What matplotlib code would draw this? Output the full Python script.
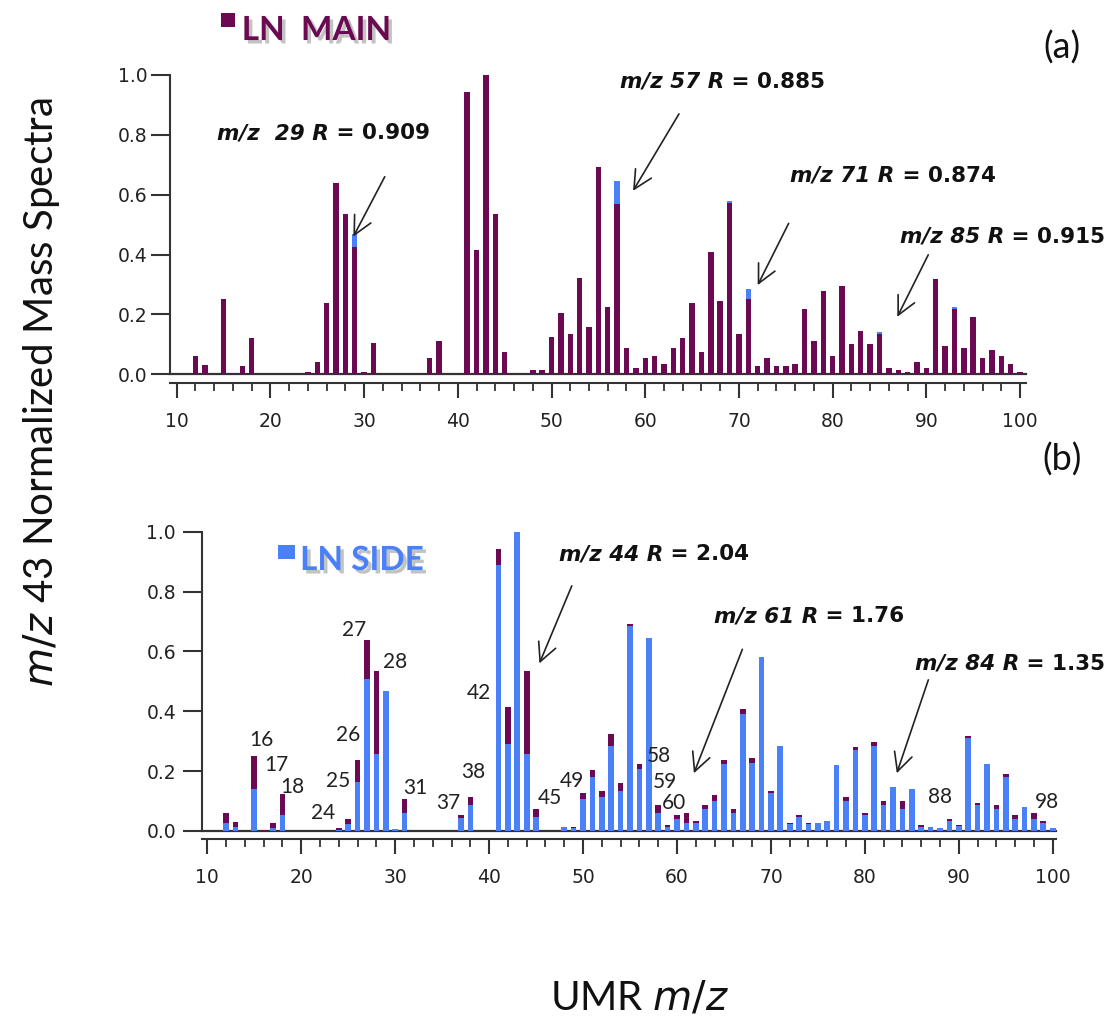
import numpy as np
import matplotlib
matplotlib.use('Agg')
from matplotlib import pyplot as plt
from matplotlib.patches import Rectangle
import matplotlib.patheffects as pe

# --- data: m/z 43 normalised unit mass resolution spectra ---
mz = np.arange(12, 101)
ln_main = [0.061, 0.030, 0, 0.252, 0.003, 0.028, 0.122, 0, 0, 0,            # 12-21
           0, 0, 0.009, 0.041, 0.238, 0.638, 0.534, 0.424, 0.008, 0.106,    # 22-31
           0, 0, 0, 0, 0, 0.053, 0.112, 0, 0, 0.942,                        # 32-41
           0.415, 1.0, 0.534, 0.073, 0, 0, 0.013, 0.014, 0.126, 0.204,      # 42-51
           0.133, 0.323, 0.159, 0.692, 0.225, 0.568, 0.087, 0.021, 0.053, 0.061,  # 52-61
           0.035, 0.087, 0.120, 0.237, 0.073, 0.409, 0.245, 0.573, 0.133, 0.253,  # 62-71
           0.028, 0.053, 0.028, 0.028, 0.035, 0.219, 0.112, 0.279, 0.061, 0.296,  # 72-81
           0.100, 0.146, 0.100, 0.135, 0.021, 0.014, 0.007, 0.041, 0.021, 0.317,  # 82-91
           0.095, 0.219, 0.087, 0.192, 0.053, 0.080, 0.061, 0.035, 0.007]         # 92-100
ln_side = [0.028, 0.015, 0, 0.139, 0, 0.009, 0.053, 0, 0, 0,
           0, 0, 0.003, 0.022, 0.165, 0.508, 0.257, 0.469, 0.008, 0.061,
           0, 0, 0, 0, 0, 0.042, 0.087, 0, 0, 0.889,
           0.290, 1.0, 0.257, 0.048, 0, 0, 0.014, 0.009, 0.106, 0.179,
           0.112, 0.284, 0.134, 0.686, 0.206, 0.645, 0.061, 0.014, 0.041, 0.028,
           0.028, 0.072, 0.100, 0.224, 0.061, 0.390, 0.226, 0.580, 0.126, 0.284,
           0.022, 0.048, 0.022, 0.028, 0.035, 0.219, 0.100, 0.270, 0.053, 0.284,
           0.087, 0.146, 0.072, 0.140, 0.014, 0.014, 0.009, 0.035, 0.017, 0.312,
           0.087, 0.225, 0.072, 0.179, 0.041, 0.080, 0.041, 0.028, 0.009]

# R annotations: (italic part, value part, text x, text y, arrow tail, arrow head)
ann_a = [("m/z  29 R", " = 0.909", 14.3, 0.806, (32.2, 0.66), (28.85, 0.46)),
         ("m/z 57 R", " = 0.885", 57.3, 0.977, (63.6, 0.87), (58.7, 0.613)),
         ("m/z 71 R", " = 0.874", 75.5, 0.663, (75.3, 0.504), (72.0, 0.298)),
         ("m/z 85 R", " = 0.915", 87.2, 0.459, (90.2, 0.399), (86.9, 0.192))]
ann_b = [("m/z 44 R", " = 2.04", 47.4, 0.925, (48.8, 0.819), (45.35, 0.56)),
         ("m/z 61 R", " = 1.76", 63.9, 0.718, (66.96, 0.607), (61.8, 0.193)),
         ("m/z 84 R", " = 1.35", 85.3, 0.558, (86.76, 0.505), (83.4, 0.193))]

# peak labels in panel (b)
pk_lbl = ['16', '17', '18', '24', '25', '26', '27', '28', '31', '37',
          '38', '42', '45', '49', '58', '59', '60', '88', '98']
pk_x = [15.8, 17.3, 19.0, 22.35, 23.95, 25.0, 25.6, 30.0, 32.1, 35.6,
        38.3, 38.9, 46.5, 48.8, 58.1, 58.7, 59.7, 88.0, 99.4]
pk_y = [0.304, 0.22, 0.148, 0.059, 0.166, 0.321, 0.672, 0.566, 0.143, 0.095,
        0.198, 0.462, 0.109, 0.168, 0.252, 0.165, 0.095, 0.115, 0.098]

PURPLE = '#6b0a52'
BLUE = '#4a80f8'
AXC = '#333333'

fig = plt.figure(figsize=(11.15, 10.19), dpi=100)
axa = fig.add_axes([0.1526, 0.6327, 0.7673, 0.2937])
axb = fig.add_axes([0.1809, 0.1845, 0.7666, 0.2937])


def style_axis(ax, xlo, xhi, ypad):
    ax.set_xlim(xlo, xhi)
    ax.set_ylim(0, 1.0)
    for s in ['top', 'right']:
        ax.spines[s].set_visible(False)
    ax.spines['bottom'].set_position(('outward', 6))
    ax.spines['left'].set_color(AXC)
    ax.spines['bottom'].set_color(AXC)
    ax.spines['left'].set_linewidth(1.5)
    ax.spines['bottom'].set_linewidth(1.5)
    ax.set_xticks(np.arange(10, 101, 10))
    ax.set_xticks(np.arange(10, 101, 2), minor=True)
    ax.set_yticks(np.arange(0, 1.01, 0.2))
    ax.set_yticklabels(['%.1f' % v for v in np.arange(0, 1.01, 0.2)])
    ax.tick_params(axis='x', which='major', length=11, width=1.5, color=AXC,
                   labelsize=13.5, pad=10, labelcolor='#222222')
    ax.tick_params(axis='x', which='minor', length=6, width=1.3, color=AXC)
    ax.tick_params(axis='y', which='major', length=13.5, width=1.5, color=AXC,
                   labelsize=13.5, pad=ypad, labelcolor='#222222')
    ax.axhline(0, color=AXC, lw=1.6, clip_on=False, zorder=1)


def r_label(ax, it_part, val_part, x, y):
    t1 = ax.text(x, y, it_part, fontsize=15.5, fontweight='bold', style='italic',
                 ha='left', va='center', color='#111111')
    ax.annotate(val_part, xy=(1, 0), xycoords=t1, ha='left', va='bottom',
                fontsize=15.5, fontweight='bold', color='#111111')


# ---------------- panel (a): main on top of side ----------------
axa.bar(mz, ln_side, width=0.58, color=BLUE, zorder=2)
axa.bar(mz, ln_main, width=0.58, color=PURPLE, zorder=3)
style_axis(axa, 9.3, 100.6, 3)
for it, val, tx, ty, tail, head in ann_a:
    r_label(axa, it, val, tx, ty)
    axa.annotate('', xy=head, xytext=tail,
                 arrowprops=dict(arrowstyle='->,head_length=0.6,head_width=0.3',
                                 mutation_scale=22, lw=1.2, color='#222222',
                                 shrinkA=0, shrinkB=0))

# ---------------- panel (b): side on top of main ----------------
axb.bar(mz, ln_main, width=0.6, color=PURPLE, zorder=2)
axb.bar(mz, ln_side, width=0.6, color=BLUE, zorder=3)
style_axis(axb, 9.4, 100.4, 5)
for it, val, tx, ty, tail, head in ann_b:
    r_label(axb, it, val, tx, ty)
    axb.annotate('', xy=head, xytext=tail,
                 arrowprops=dict(arrowstyle='->,head_length=0.6,head_width=0.3',
                                 mutation_scale=22, lw=1.2, color='#222222',
                                 shrinkA=0, shrinkB=0))
for lb, px, py in zip(pk_lbl, pk_x, pk_y):
    axb.text(px, py, lb, fontsize=15, family='Lato', ha='center', va='center',
             color='#222222', zorder=5)

# ---------------- legends, panel tags and axis titles ----------------
shadow = [pe.withSimplePatchShadow(offset=(2.5, -2.5), shadow_rgbFace='#888888', alpha=0.5)]
fig.patches.append(Rectangle((0.198, 0.9732), 0.0128, 0.0137, transform=fig.transFigure,
                             facecolor=PURPLE, edgecolor='none'))
fig.text(0.2168, 0.9607, 'LN  MAIN', fontsize=24, family='Lato', fontweight='bold',
         color=PURPLE, ha='left', va='baseline', path_effects=shadow)
fig.patches.append(Rectangle((0.2496, 0.4514), 0.015, 0.0137, transform=fig.transFigure,
                             facecolor=BLUE, edgecolor='none'))
fig.text(0.2691, 0.4406, 'LN SIDE', fontsize=24, family='Lato', fontweight='bold',
         color=BLUE, ha='left', va='baseline', path_effects=shadow)

fig.text(0.9525, 0.9538, '(a)', fontsize=26, family='Lato', ha='center', va='center',
         color='#111111')
fig.text(0.9525, 0.5486, '(b)', fontsize=26, family='Lato', ha='center', va='center',
         color='#111111')

fig.text(0.037, 0.615, r'$m/z$ 43 Normalized Mass Spectra', fontsize=29, family='Lato',
         rotation=90, ha='center', va='center', color='#111111')
fig.text(0.574, 0.0098, r'UMR $m/z$', fontsize=29, family='Lato', ha='center',
         va='baseline', color='#111111')

fig.savefig('out.png', dpi=100)
